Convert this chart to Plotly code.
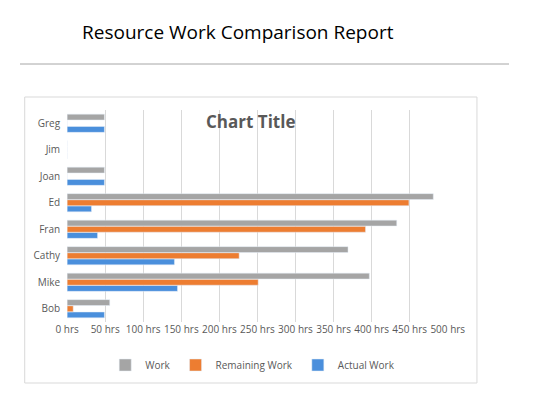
import plotly.graph_objects as go

resources = ["Bob", "Mike", "Cathy", "Fran", "Ed", "Joan", "Jim", "Greg"]
work = [56, 397, 369, 433, 481, 49, 0, 49]
remaining = [8, 251, 226, 392, 449, 0, 0, 0]
actual = [49, 145, 141, 40, 32, 49, 0, 49]
x_ticks = list(range(0, 501, 50))
x_labels = [f"{v} hrs" for v in x_ticks]

W, H, OFF = 519, 385, 8


def px(x):
    return (x - OFF) / W


def py(y):
    return 1 - (y - OFF) / H


fig = go.Figure()
fig.add_trace(go.Bar(y=resources, x=actual, name="Actual Work", orientation="h",
                     marker_color="#4a8fdc"))
fig.add_trace(go.Bar(y=resources, x=remaining, name="Remaining Work", orientation="h",
                     marker_color="#ed7d31"))
fig.add_trace(go.Bar(y=resources, x=work, name="Work", orientation="h",
                     marker_color="#a5a5a5"))

fig.update_layout(
    width=W, height=H,
    margin=dict(l=0, r=0, t=0, b=0),
    paper_bgcolor="white", plot_bgcolor="white",
    font=dict(family="Open Sans", size=10, color="#595959"),
    barmode="group", bargap=0.3, bargroupgap=0.05,
    xaxis=dict(domain=[px(58), px(462)], range=[0, 500], tickvals=x_ticks,
               ticktext=x_labels, tickangle=0, showgrid=True, gridcolor="#d9d9d9",
               zeroline=False, fixedrange=True),
    yaxis=dict(domain=[py(322), py(110)], showgrid=False, ticks="outside",
               ticklen=4, tickcolor="white", showline=False),
    legend=dict(orientation="h", x=px(255), xanchor="center", y=py(365),
                yanchor="middle", traceorder="reversed", font=dict(size=10),
                itemwidth=30),
    showlegend=True,
)
fig.add_annotation(text="Resource Work Comparison Report", xref="paper", yref="paper",
                   x=px(72), y=py(32), xanchor="left", yanchor="middle",
                   showarrow=False, font=dict(size=19, color="black", family="Open Sans"))
fig.add_annotation(text="<b>Chart Title</b>", xref="paper", yref="paper",
                   x=px(253), y=py(121), xanchor="center", yanchor="middle",
                   showarrow=False, font=dict(size=17, color="#595959"))
fig.add_shape(type="line", xref="paper", yref="paper", x0=0, x1=1,
              y0=py(64), y1=py(64), line=dict(color="#a6a6a6", width=1))
fig.add_shape(type="rect", xref="paper", yref="paper", x0=px(13), x1=px(493),
              y0=py(383), y1=py(97), line=dict(color="#d9d9d9", width=1))

fig.write_html("out.html")
